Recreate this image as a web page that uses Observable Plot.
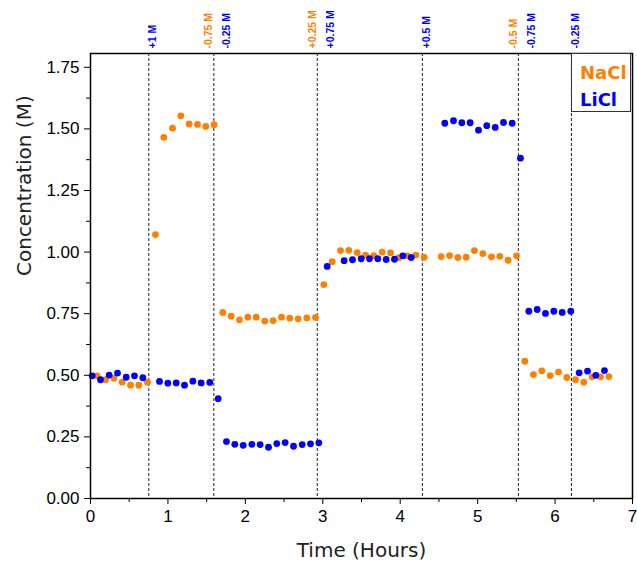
<!DOCTYPE html>
<html>
<head>
<meta charset="utf-8">
<script src="https://cdn.jsdelivr.net/npm/d3@7"></script>
<script src="https://cdn.jsdelivr.net/npm/@observablehq/plot@0.6"></script>
<style>
  body { margin: 0; background: #fff; }
  #wrap { position: relative; width: 637px; height: 565px; }
  #legend {
    position: absolute; left: 571px; top: 53px; width: 60px; height: 59px;
    border: 1px solid #333; background: #fff; box-sizing: border-box;
    font: bold 18px "DejaVu Sans", sans-serif; line-height: 27px; padding: 5px 0 0 8px;
  }
</style>
</head>
<body>
<div id="wrap"></div>
<script>
// ---- data ----
const naclTime = [0.086,0.194,0.301,0.409,0.517,0.624,0.736,0.839,0.947,1.059,1.167,1.274,1.382,1.489,1.597,
  1.709,1.817,1.924,2.032,2.140,2.251,2.359,2.467,2.574,2.682,2.794,2.906,3.013,3.121,3.229,3.336,3.444,3.552,
  3.659,3.767,3.874,3.982,4.090,4.201,4.310,4.529,4.637,4.744,4.852,4.959,5.067,5.179,5.286,5.394,5.502,5.609,
  5.721,5.829,5.937,6.044,6.152,6.264,6.371,6.479,6.587,6.694];
const naclConc = [0.498,0.482,0.488,0.472,0.460,0.460,0.472,1.071,1.466,1.503,1.553,1.520,1.518,1.510,1.517,
  0.755,0.740,0.725,0.736,0.736,0.720,0.722,0.736,0.732,0.729,0.733,0.735,0.868,0.961,1.006,1.007,0.998,0.988,
  0.986,1.000,0.997,0.977,0.985,0.988,0.979,0.982,0.986,0.978,0.979,1.006,0.994,0.981,0.983,0.967,0.985,0.557,
  0.503,0.518,0.499,0.513,0.491,0.482,0.472,0.494,0.494,0.495];

const liclTime = [0.022,0.129,0.241,0.349,0.461,0.568,0.676,0.891,0.999,1.107,1.214,1.322,1.429,1.541,1.649,
  1.756,1.864,1.972,2.084,2.191,2.299,2.406,2.514,2.622,2.734,2.841,2.949,3.057,3.276,3.384,3.496,3.603,3.711,
  3.819,3.926,4.034,4.142,4.576,4.688,4.796,4.903,5.011,5.118,5.227,5.334,5.446,5.553,5.661,5.769,5.876,5.984,
  6.092,6.203,6.311,6.419,6.526,6.638];
const liclConc = [0.498,0.482,0.501,0.509,0.492,0.498,0.490,0.475,0.468,0.469,0.460,0.476,0.469,0.471,0.405,
  0.231,0.220,0.216,0.220,0.219,0.208,0.223,0.227,0.212,0.219,0.222,0.226,0.942,0.965,0.969,0.973,0.973,0.973,
  0.970,0.971,0.985,0.978,1.523,1.533,1.525,1.525,1.495,1.513,1.506,1.526,1.523,1.381,0.760,0.767,0.751,0.760,
  0.755,0.760,0.510,0.517,0.500,0.519];

const eventTime  = [0.753, 1.593, 2.929, 4.286, 5.526, 6.211];
const naclLabels = ["", "-0.75 M", "+0.25 M", "", "-0.5 M", ""];
const liclLabels = ["+1 M", "-0.25 M", "+0.75 M", "+0.5 M", "-0.75 M", "-0.25 M"];

const xTicks = [0, 1, 2, 3, 4, 5, 6, 7];
const yTicks = [0, 0.25, 0.5, 0.75, 1.0, 1.25, 1.5, 1.75];
const seriesNames = ["NaCl", "LiCl"];

// ---- build ----
const ORANGE = "#ff8000", BLUE = "#0000ff";
const nacl = naclTime.map((t, i) => ({t, c: naclConc[i]}));
const licl = liclTime.map((t, i) => ({t, c: liclConc[i]}));
const events = eventTime.map((t, i) => ({t, na: naclLabels[i], li: liclLabels[i]}));
const paired = events.filter(d => d.na && d.li);
const single = events.filter(d => !d.na && d.li);

const tickFont = "Liberation Sans, Arial, sans-serif";
const titleFont = "DejaVu Sans, sans-serif";

const chart = Plot.plot({
  width: 637, height: 565,
  marginLeft: 90, marginRight: 5, marginTop: 53, marginBottom: 67,
  style: {fontFamily: tickFont, fontSize: "17px", background: "white", color: "black"},
  x: {domain: [0, 7]},
  y: {domain: [0, 1.806]},
  marks: [
    Plot.ruleX(events, {x: "t", stroke: "#222", strokeWidth: 1, strokeDasharray: "3,2"}),
    Plot.dot(nacl, {x: "t", y: "c", r: 3.4, fill: ORANGE}),
    Plot.dot(licl, {x: "t", y: "c", r: 3.4, fill: BLUE}),
    Plot.frame({stroke: "black", strokeWidth: 1.5}),
    Plot.axisX({ticks: xTicks, tickSize: 6, tickPadding: 5, tickFormat: d3.format("d"), label: null, fontSize: 17}),
    Plot.axisX({ticks: xTicks.slice(0, -1).map(d => d + 0.5), tickSize: 4, tickFormat: () => "", label: null}),
    Plot.axisY({ticks: yTicks, tickSize: 6, tickPadding: 5, tickFormat: d3.format(".2f"), label: null, fontSize: 17}),
    Plot.axisY({ticks: yTicks.slice(0, -1).map(d => d + 0.125), tickSize: 4, tickFormat: () => "", label: null}),
    Plot.text(["Time (Hours)"], {frameAnchor: "bottom", dy: 58, fontFamily: titleFont, fontSize: 20, fill: "#222"}),
    Plot.text(["Concentration (M)"], {frameAnchor: "left", dx: -66, rotate: -90, fontFamily: titleFont, fontSize: 20, fill: "#222"}),
    Plot.text(events.filter(d => d.na), {x: "t", text: "na", frameAnchor: "top", rotate: -90, textAnchor: "start",
      dx: -9, dy: -5, fill: ORANGE, fontWeight: "bold", fontSize: 10.5}),
    Plot.text(paired, {x: "t", text: "li", frameAnchor: "top", rotate: -90, textAnchor: "start",
      dx: 9, dy: -5, fill: BLUE, fontWeight: "bold", fontSize: 10.5}),
    Plot.text(single, {x: "t", text: "li", frameAnchor: "top", rotate: -90, textAnchor: "start",
      dx: 0, dy: -5, fill: BLUE, fontWeight: "bold", fontSize: 10.5})
  ]
});

const wrap = document.getElementById("wrap");
wrap.appendChild(chart);
const legend = document.createElement("div");
legend.id = "legend";
legend.innerHTML = `<div style="color:${ORANGE}">${seriesNames[0]}</div><div style="color:${BLUE}">${seriesNames[1]}</div>`;
wrap.appendChild(legend);
</script>
</body>
</html>
